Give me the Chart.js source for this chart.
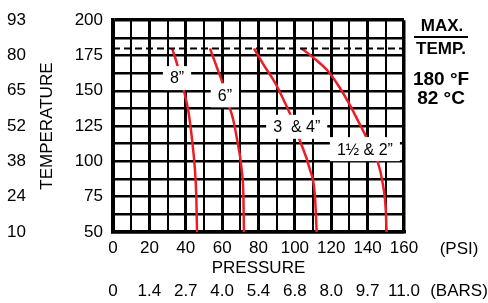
<!DOCTYPE html>
<html>
<head>
<meta charset="utf-8">
<script src="https://cdn.jsdelivr.net/npm/chart.js@4/dist/chart.umd.min.js"></script>
<style>
  html, body { margin: 0; padding: 0; background: #fff; }
  #wrap { width: 488px; height: 303px; }
</style>
</head>
<body>
<div id="wrap"><canvas id="chart" width="488" height="303"></canvas></div>
<script>
var psiTicks = [0, 20, 40, 60, 80, 100, 120, 140, 160];
var barTicks = ['0', '1.4', '2.7', '4.0', '5.4', '6.8', '8.0', '9.7', '11.0'];
var tempF = [50, 75, 100, 125, 150, 175, 200];
var tempC = ['10', '24', '38', '52', '65', '80', '93'];
var maxTemp = 180;

// pressure / temperature curves, one per pipe size
var psi8 = [32.5, 35, 37, 39, 41.5, 43.5, 45, 45.8, 46.2];
var temp8 = [180, 170, 160, 150, 135, 115, 95, 75, 50];
var psi6 = [53.3, 57, 61, 63.4, 66, 68, 70.7, 71.7, 72];
var temp6 = [180, 167, 152.5, 141, 130, 117, 94.5, 75, 50];
var psi34 = [77.5, 83, 89, 94, 98.2, 102.4, 108.2, 111, 112];
var temp34 = [180, 168, 156, 143, 131, 116, 94.5, 76, 50];
var psi15 = [103.7, 111.5, 118.5, 124.5, 130.2, 135, 139.4, 144.5, 148.5, 150, 150.4];
var temp15 = [180, 172, 163.5, 152.5, 140, 128, 117, 104, 83, 65, 50];

var sizeNames = ['8\u201d', '6\u201d', '3  & 4\u201d', '1\u00bd & 2\u201d'];
var namePsi = [35.2, 61.5, 101, 138.5];
var nameTemp = [159, 146.8, 124.5, 108.7];

var FONT = "'Liberation Sans', Arial, Helvetica, sans-serif";
var RED = '#ee1c24';

function toPoints(xs, ys) {
    return xs.map(function (x, i) { return { x: x, y: ys[i] }; });
}

function curve(xs, ys) {
    return {
        data: toPoints(xs, ys),
        showLine: true,
        borderColor: RED,
        borderWidth: 2.5,
        pointRadius: 0,
        cubicInterpolationMode: 'monotone'
    };
}

var sizeLabels = {
    id: 'sizeLabels',
    afterDatasetsDraw: function (chart) {
        var ctx = chart.ctx;
        var xs = chart.scales.x, ys = chart.scales.y;
        ctx.save();
        ctx.font = '16px ' + FONT;
        ctx.textAlign = 'center';
        ctx.textBaseline = 'middle';
        sizeNames.forEach(function (name, i) {
            var px = xs.getPixelForValue(namePsi[i]);
            var py = ys.getPixelForValue(nameTemp[i]);
            var w = ctx.measureText(name).width;
            ctx.fillStyle = '#fff';
            ctx.fillRect(px - w / 2 - 7, py - 12, w + 14, 24);
            ctx.fillStyle = '#000';
            ctx.fillText(name, px, py + 1);
        });
        ctx.restore();
    }
};

var sideText = {
    id: 'sideText',
    afterDraw: function (chart) {
        var ctx = chart.ctx;
        ctx.save();
        ctx.fillStyle = '#000';
        ctx.textAlign = 'center';
        ctx.textBaseline = 'middle';
        ctx.font = 'bold 17px ' + FONT;
        ctx.fillText('MAX.', 442, 26);
        ctx.fillRect(414, 36, 54, 2);
        ctx.fillText('TEMP.', 441, 49);
        ctx.font = 'bold 19px ' + FONT;
        ctx.fillText('180 \u00b0F', 441, 80);
        ctx.fillText('82 \u00b0C', 441, 99);
        ctx.font = '17px ' + FONT;
        ctx.fillText('(PSI)', 459, 249);
        ctx.fillText('(BARS)', 459, 291);
        ctx.restore();
    }
};

new Chart(document.getElementById('chart'), {
    type: 'scatter',
    data: {
        datasets: [
            {
                data: toPoints([0, 160], [maxTemp, maxTemp]),
                showLine: true,
                borderColor: '#000',
                borderWidth: 2,
                borderDash: [7, 4],
                pointRadius: 0
            },
            curve(psi8, temp8),
            curve(psi6, temp6),
            curve(psi34, temp34),
            curve(psi15, temp15)
        ]
    },
    options: {
        responsive: false,
        animation: false,
        devicePixelRatio: 1,
        layout: { padding: { top: 12, right: 84, bottom: 0, left: 0 } },
        plugins: { legend: { display: false }, tooltip: { enabled: false } },
        scales: {
            x: {
                type: 'linear', position: 'bottom', weight: 0,
                min: 0, max: 160,
                afterFit: function (s) { s.height = 47; },
                border: { color: '#000', width: 3.5 },
                grid: {
                    color: '#000', drawTicks: false,
                    lineWidth: function (c) {
                        if (c.tick.value === 160) return 3.5;
                        return c.tick.value % 20 === 0 ? 3 : 2;
                    }
                },
                ticks: {
                    stepSize: 10, autoSkip: false, maxRotation: 0, padding: 6,
                    color: '#000', font: { family: FONT, size: 17 },
                    callback: function (v) { return psiTicks.indexOf(v) >= 0 ? String(v) : ''; }
                },
                title: {
                    display: true, text: 'PRESSURE', color: '#000',
                    font: { family: FONT, size: 17 }, padding: 0
                }
            },
            x2: {
                type: 'linear', position: 'bottom', weight: 1,
                min: 0, max: 160,
                afterFit: function (s) { s.height = 24; },
                border: { display: false },
                grid: { display: false, drawTicks: false },
                ticks: {
                    stepSize: 20, autoSkip: false, maxRotation: 0, padding: 2,
                    color: '#000', font: { family: FONT, size: 17 },
                    callback: function (v) { return barTicks[psiTicks.indexOf(v)]; }
                }
            },
            y: {
                type: 'linear', position: 'left', weight: 0,
                min: 50, max: 200,
                afterFit: function (s) { s.width = 83; },
                border: { color: '#000', width: 3.5 },
                grid: {
                    color: '#000', drawTicks: false,
                    lineWidth: function (c) { return c.tick.value === 200 ? 3.5 : 2.6; }
                },
                ticks: {
                    stepSize: 12.5, autoSkip: false, padding: 10,
                    color: '#000', font: { family: FONT, size: 17 },
                    callback: function (v) { return tempF.indexOf(v) >= 0 ? String(v) : ''; }
                },
                title: {
                    display: true, text: 'TEMPERATURE', color: '#000',
                    font: { family: FONT, size: 17 }, padding: { top: 7, bottom: 0 }
                }
            },
            y2: {
                type: 'linear', position: 'left', weight: 1,
                min: 50, max: 200,
                afterFit: function (s) { s.width = 30; },
                border: { display: false },
                grid: { display: false, drawTicks: false },
                ticks: {
                    stepSize: 25, autoSkip: false, padding: 4,
                    color: '#000', font: { family: FONT, size: 17 },
                    callback: function (v) { return tempC[tempF.indexOf(v)]; }
                }
            }
        }
    },
    plugins: [sizeLabels, sideText]
});
</script>
</body>
</html>
